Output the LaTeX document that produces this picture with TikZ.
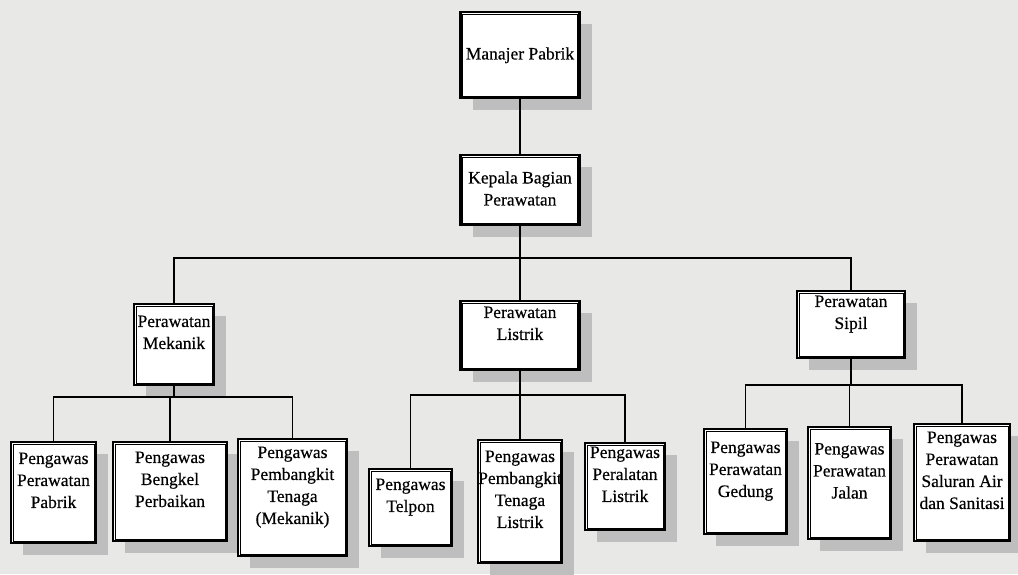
\documentclass[tikz,border=0pt]{standalone}
\usepackage{fontspec}
\setmainfont{Liberation Serif}[FakeBold=0.4]
\usepackage{xcolor}
\usepackage{tikz}
\usetikzlibrary{shadows}
\definecolor{paper}{RGB}{232,232,230}
\definecolor{shadowgray}{RGB}{190,190,190}
% text block of a box, lifted a little towards the top
\newcommand{\boxtext}[2][6.6pt]{\raisebox{#1}[0pt][0pt]{\begin{tabular}{@{}c@{}}#2\end{tabular}}}

\begin{document}
\begin{tikzpicture}[
    x=1pt, y=-1pt,
    orgbox/.style={rectangle, draw=black, line width=2.2pt, fill=white, inner sep=0pt, font=\fontsize{17.5}{22}\selectfont,
        drop shadow={shadow xshift=12pt, shadow yshift=-12pt, fill=shadowgray, opacity=1, draw=none}},
    innerframe/.style={draw=black, line width=0.9pt},
    link/.style={draw=black, line width=1.8pt}
]
    \useasboundingbox (0,0) rectangle (1018,574);
    \fill[paper] (0,0) rectangle (1018,574);

    % top of the chart
    \node[orgbox, minimum width=119, minimum height=86] (manajer) at (520,55) {\boxtext[-4.4pt]{Manajer Pabrik}};
    \node[orgbox, minimum width=119, minimum height=70] (kepala) at (520,190) {\boxtext[-4.4pt]{Kepala Bagian\\Perawatan}};

    % sections
    \node[orgbox, minimum width=80, minimum height=81] (mekanik) at (174,344.5) {\boxtext{Perawatan\\Mekanik}};
    \node[orgbox, minimum width=119, minimum height=69] (listrik) at (520,335.5) {\boxtext{Perawatan\\Listrik}};
    \node[orgbox, minimum width=108, minimum height=67] (sipil) at (851,324.5) {\boxtext{Perawatan\\Sipil}};

    % supervisors
    \node[orgbox, minimum width=85, minimum height=101] (pabrik) at (53.5,492.5) {\boxtext{Pengawas\\Perawatan\\Pabrik}};
    \node[orgbox, minimum width=114, minimum height=99] (bengkel) at (170,491.5) {\boxtext{Pengawas\\Bengkel\\Perbaikan}};
    \node[orgbox, minimum width=109, minimum height=117] (pembmek) at (292.5,497.5) {\boxtext{Pengawas\\Pembangkit\\Tenaga\\(Mekanik)}};
    \node[orgbox, minimum width=83, minimum height=77] (telpon) at (410.5,507.5) {\boxtext{Pengawas\\Telpon}};
    \node[orgbox, minimum width=84, minimum height=123] (pemblis) at (520,501.5) {\boxtext{Pengawas\\Pembangkit\\Tenaga\\Listrik}};
    \node[orgbox, minimum width=80, minimum height=87] (peralatan) at (625,486.5) {\boxtext{Pengawas\\Peralatan\\Listrik}};
    \node[orgbox, minimum width=83, minimum height=105] (gedung) at (745.5,481.5) {\boxtext{Pengawas\\Perawatan\\Gedung}};
    \node[orgbox, minimum width=83, minimum height=112] (jalan) at (849.5,483) {\boxtext{Pengawas\\Perawatan\\Jalan}};
    \node[orgbox, minimum width=96, minimum height=117] (saluran) at (962,482.5) {\boxtext{Pengawas\\Perawatan\\Saluran Air\\dan Sanitasi}};

    % thin inner line of every frame
    \foreach \n in {manajer,kepala,mekanik,listrik,sipil,pabrik,bengkel,pembmek,telpon,pemblis,peralatan,gedung,jalan,saluran}
        \draw[innerframe] ([shift={(3.1,3.1)}]\n.north west) rectangle ([shift={(-3.1,-3.1)}]\n.south east);

    % junctions of the lines
    \coordinate (topbus) at (520,258);
    \coordinate (mekbus) at (174,397);
    \coordinate (lisbus) at (520,395);
    \coordinate (sipbus) at (851,385);

    \draw[link] (manajer) -- (kepala);
    \draw[link] (kepala) -- (topbus);
    \foreach \s in {mekanik,listrik,sipil}
        \draw[link] (topbus) -| (\s);

    \draw[link] (mekanik) -- (mekbus);
    \foreach \c in {pabrik,bengkel,pembmek}
        \draw[link] (mekbus) -| (\c);

    \draw[link] (listrik) -- (lisbus);
    \foreach \c in {telpon,pemblis,peralatan}
        \draw[link] (lisbus) -| (\c);

    \draw[link] (sipil) -- (sipbus);
    \foreach \c in {gedung,jalan,saluran}
        \draw[link] (sipbus) -| (\c);
\end{tikzpicture}
\end{document}
